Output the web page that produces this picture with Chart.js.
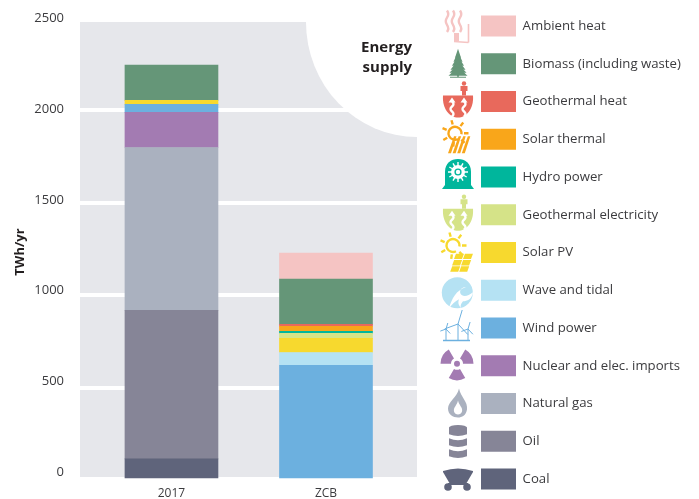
<!DOCTYPE html>
<html><head><meta charset="utf-8">
<style>html,body{margin:0;padding:0;background:#fff}canvas{display:block}</style>
<script src="https://cdn.jsdelivr.net/npm/chart.js@4"></script>
</head><body><canvas id="c" width="699" height="499"></canvas>
<script>
const categories = ['2017', 'ZCB'];
const seriesNames = ['Coal','Oil','Natural gas','Nuclear and elec. imports','Wind power','Wave and tidal','Solar PV','Geothermal electricity','Hydro power','Solar thermal','Geothermal heat','Biomass (including waste)','Ambient heat'];
const values2017 = [114, 804, 881, 190, 44, null, 21, null, null, null, null, 191, null];
const valuesZCB  = [null, null, null, null, 620, 70, 76, 27, 11, 28, 10, 245, 141];
const seriesColors = ['#5f647b','#868597','#aab1bf','#a37bb2','#6cb0df','#b5e2f3','#f7d92e','#d5e388','#00b69c','#f9a61a','#e8695c','#659678','#f5c4c3'];
const yTicks = [0, 500, 1000, 1500, 2000, 2500];
const FONT = '"Open Sans", sans-serif';
const TEXT = '#3b3b3e';
const LEGEND_GAP = 16.75;

const datasets = seriesNames.map((name, i) => ({
  label: name,
  data: [{x: 0, y: values2017[i]}, {x: 1, y: valuesZCB[i]}],
  backgroundColor: seriesColors[i],
  borderWidth: 0,
  barThickness: 93,
  yAxisID: 'y'
}));

function wavy(ctx, x, y0, y1, amp, lw) {
  ctx.lineWidth = lw; ctx.beginPath(); ctx.moveTo(x, y0);
  const h = (y1 - y0) / 3;
  for (let k = 0; k < 3; k++) {
    const s = k % 2 ? -1 : 1;
    ctx.quadraticCurveTo(x + s * amp, y0 + h * (k + .5), x, y0 + h * (k + 1));
  }
  ctx.stroke();
}
function rays(ctx, cx, cy, r0, r1, a0, a1, n) {
  ctx.beginPath();
  for (let k = 0; k < n; k++) {
    const a = (a0 + (a1 - a0) * k / (n - 1)) * Math.PI / 180;
    ctx.moveTo(cx + r0 * Math.cos(a), cy + r0 * Math.sin(a));
    ctx.lineTo(cx + r1 * Math.cos(a), cy + r1 * Math.sin(a));
  }
  ctx.stroke();
}
function geo(ctx, c) {
  ctx.fillStyle = c;
  ctx.beginPath(); ctx.moveTo(-15,-6); ctx.lineTo(15,-6); ctx.bezierCurveTo(16,8,8,16,0,16); ctx.bezierCurveTo(-8,16,-16,8,-15,-6); ctx.fill();
  ctx.beginPath(); ctx.arc(6,-18,2.2,0,7); ctx.fill();
  ctx.fillRect(2.5,-15.5,7,5); ctx.fillRect(4,-11,4,5);
  ctx.strokeStyle = '#fff'; ctx.fillStyle = '#fff';
  [-6, 6].forEach(x => {
    wavy(ctx, x, 15, 0, 3, 2.4);
    ctx.beginPath(); ctx.moveTo(x-3.5,1); ctx.lineTo(x,-4); ctx.lineTo(x+3.5,1); ctx.fill();
  });
}
function sun(ctx, c, x, y) {
  ctx.strokeStyle = c; ctx.lineWidth = 2.4;
  ctx.beginPath(); ctx.arc(x, y, 6.5, Math.PI * .35, Math.PI * 2.05); ctx.stroke();
  rays(ctx, x, y, 9, 13.5, 45, 360, 7);
}
const icons = [
  (ctx, c) => { // coal cart
    ctx.fillStyle = c;
    ctx.beginPath(); ctx.moveTo(-15,-8); ctx.quadraticCurveTo(0,-13,15,-8); ctx.lineTo(15,-7); ctx.lineTo(8,5); ctx.lineTo(-8,5); ctx.lineTo(-15,-7); ctx.fill();
    ctx.fillRect(-10,4,20,2);
    ctx.beginPath(); ctx.arc(-10,8,3.8,0,7); ctx.arc(9,8,3.8,0,7); ctx.fill();
  },
  (ctx, c) => { // oil barrel
    ctx.fillStyle = c;
    [[-16,-7],[-5,4],[6,15]].forEach(([a,b]) => {
      ctx.beginPath(); ctx.moveTo(-9,a+2); ctx.quadraticCurveTo(0,a+6,9,a+2); ctx.lineTo(9,b); ctx.quadraticCurveTo(0,b+3.5,-9,b); ctx.fill();
    });
    ctx.beginPath(); ctx.ellipse(0,-13.5,9,2.8,0,0,7); ctx.fill();
  },
  (ctx, c) => { // gas flame
    ctx.fillStyle = c;
    ctx.beginPath(); ctx.moveTo(1,-15); ctx.bezierCurveTo(3,-6,10,-2,9,6); ctx.bezierCurveTo(8,12,4,14,0,14); ctx.bezierCurveTo(-5,14,-10,11,-10,5); ctx.bezierCurveTo(-10,-2,-1,-6,1,-15); ctx.fill();
    ctx.fillStyle = '#fff';
    ctx.beginPath(); ctx.moveTo(0,-3); ctx.bezierCurveTo(1,2,5,4,4,8); ctx.bezierCurveTo(3,12,-3,12,-4,8); ctx.bezierCurveTo(-5,4,-1,2,0,-3); ctx.fill();
  },
  (ctx, c) => { // nuclear
    ctx.fillStyle = c;
    [-150,-30,90].forEach(a => {
      const s = (a-30)*Math.PI/180, e = (a+30)*Math.PI/180;
      ctx.beginPath(); ctx.arc(-1,-2,16.5,s,e); ctx.arc(-1,-2,6,e,s,true); ctx.closePath(); ctx.fill();
    });
    ctx.beginPath(); ctx.arc(-1,-2,3,0,7); ctx.fill();
  },
  (ctx, c) => { // wind
    ctx.strokeStyle = c; ctx.lineWidth = 1;
    const turbine = (x, hub, r) => {
      ctx.beginPath(); ctx.moveTo(x,12); ctx.lineTo(x,hub);
      ctx.moveTo(x,hub); ctx.lineTo(x+r*.3,hub-r);
      ctx.moveTo(x,hub); ctx.lineTo(x-r*.95,hub+r*.35);
      ctx.moveTo(x,hub); ctx.lineTo(x+r*.7,hub+r*.75);
      ctx.stroke();
    };
    turbine(0,-4,14); turbine(-12,1,6); turbine(10,1,7);
    ctx.lineWidth = 1.5; ctx.beginPath(); ctx.moveTo(-15,12.5); ctx.lineTo(12,12.5); ctx.stroke();
  },
  (ctx, c) => { // wave
    ctx.fillStyle = c; ctx.beginPath(); ctx.arc(-.7,2.5,15.5,0,7); ctx.fill();
    ctx.fillStyle = '#fff';
    ctx.beginPath(); ctx.moveTo(-9,18); ctx.bezierCurveTo(-6,8,-2,0,8,-3); ctx.bezierCurveTo(3,-4,0,2,4,5); ctx.bezierCurveTo(7,7,11,5,15,2); ctx.bezierCurveTo(14,9,9,11,5,11); ctx.bezierCurveTo(3,13,2,16,3,18); ctx.bezierCurveTo(0,14,0,12,1,9); ctx.bezierCurveTo(-3,11,-6,14,-9,18); ctx.fill();
  },
  (ctx, c) => { // solar pv
    sun(ctx, c, -5, -7);
    ctx.fillStyle = c;
    [0,1,2].forEach(row => [0,1].forEach(col => {
      const x = -4 - row * 1.9 + col * 9 , y = 1.2 + row * 6.3;
      ctx.beginPath(); ctx.moveTo(x+2,y); ctx.lineTo(x+10,y); ctx.lineTo(x+8,y+5.4); ctx.lineTo(x,y+5.4); ctx.fill();
    }));
  },
  (ctx, c) => geo(ctx, c),
  (ctx, c) => { // hydro
    ctx.fillStyle = c;
    ctx.beginPath(); ctx.moveTo(-13,9); ctx.lineTo(-13,-5); ctx.bezierCurveTo(-13,-14,-7,-18,0,-18); ctx.bezierCurveTo(7,-18,13,-14,13,-5); ctx.lineTo(13,9); ctx.fill();
    ctx.beginPath(); ctx.moveTo(-16,12); ctx.lineTo(-13,8); ctx.lineTo(13,8); ctx.lineTo(16,12); ctx.fill();
    ctx.strokeStyle = '#fff'; ctx.fillStyle = '#fff'; ctx.lineWidth = 1.4;
    rays(ctx, 0, -5, 6, 10, 0, 330, 12);
    ctx.beginPath(); ctx.arc(0,-5,7,0,7); ctx.fill();
    ctx.fillStyle = c; ctx.beginPath(); ctx.arc(0,-5,3.6,0,7); ctx.fill();
    ctx.fillStyle = '#fff'; ctx.beginPath(); ctx.arc(0,-5,2.2,0,7); ctx.fill();
  },
  (ctx, c) => { // solar thermal
    sun(ctx, c, -3, -6);
    ctx.fillStyle = c;
    [0,1,2,3].forEach(k => {
      const x = -10 + k * 4.6;
      ctx.beginPath(); ctx.moveTo(x+6,-3); ctx.lineTo(x+8.5,-3); ctx.lineTo(x+3,14); ctx.lineTo(x,14); ctx.fill();
    });
  },
  (ctx, c) => geo(ctx, c),
  (ctx, c) => { // tree
    ctx.fillStyle = c;
    [[-15,-6,3],[-12,-2,4.5],[-8,2,6],[-4,6,7.5],[0,9,8.5],[3,12,9.5]].forEach(([t,b,w]) => {
      ctx.beginPath(); ctx.moveTo(0,t); ctx.lineTo(w,b); ctx.lineTo(-w,b); ctx.fill();
    });
    ctx.fillRect(-1,11,2,2); ctx.fillRect(-8,13,16,1);
  },
  (ctx, c) => { // ambient heat
    ctx.strokeStyle = c; ctx.fillStyle = c;
    [-11,-5,2].forEach(x => wavy(ctx, x, -15.5, 6, 2.5, 2.4));
    ctx.fillRect(-4,7,5,8);
    ctx.lineWidth = 1.6;
    ctx.beginPath(); ctx.moveTo(10.5,-2); ctx.lineTo(10.5,16.5); ctx.moveTo(-4,15.5); ctx.lineTo(10.5,16.5); ctx.stroke();
  }
];

const furniture = {
  id: 'furniture',
  beforeLayout(chart) {
    const l = chart.legend;
    if (l && !l._patched) {
      const f = l.fit;
      l.fit = function () { this.maxHeight = 700; f.call(this); this.width = 282; this.height = 499; };
      l._patched = true;
    }
  },
  afterLayout(chart) {
    const l = chart.legend;
    l.left = 481 - LEGEND_GAP; l.right = 699; l.top = 15.5 - LEGEND_GAP; l.bottom = 700;
  },
  beforeDraw(chart) {
    const {ctx, chartArea: a} = chart;
    ctx.save();
    ctx.fillStyle = '#e6e7eb';
    ctx.fillRect(a.left, a.top + 4, a.right - a.left, a.bottom - a.top - 7);
    ctx.fillStyle = '#fff';
    ctx.beginPath(); ctx.ellipse(a.right, a.top + 4, 111, 115, 0, Math.PI / 2, Math.PI); ctx.lineTo(a.right, a.top + 4); ctx.fill();
    ctx.restore();
  },
  afterDraw(chart) {
    const {ctx, chartArea: a} = chart;
    ctx.save();
    ctx.fillStyle = '#231f20';
    ctx.font = 'bold 15px ' + FONT;
    ctx.textAlign = 'right'; ctx.textBaseline = 'middle';
    ctx.fillText('Energy', a.right - 5, 48);
    ctx.fillText('supply', a.right - 5, 68);
    ctx.save();
    ctx.translate(20, 252); ctx.rotate(-Math.PI / 2);
    ctx.textAlign = 'center';
    ctx.font = 'bold 13px ' + FONT;
    ctx.fillText('TWh/yr', 0, 0);
    ctx.restore();
    const items = chart.legend.legendItems, boxes = chart.legend.legendHitBoxes;
    items.forEach((it, i) => {
      const idx = it.datasetIndex;
      ctx.save();
      ctx.translate(458, boxes[i].top + boxes[i].height / 2);
      icons[idx](ctx, seriesColors[idx]);
      ctx.restore();
    });
    ctx.restore();
  }
};

new Chart(document.getElementById('c'), {
  type: 'bar',
  data: {datasets},
  plugins: [furniture],
  options: {
    responsive: false, animation: false,
    layout: {padding: {top: 18, left: 0, right: 0, bottom: 0}},
    plugins: {
      tooltip: {enabled: false},
      legend: {
        position: 'right', align: 'start', reverse: true,
        labels: {boxWidth: 35, boxHeight: 21, padding: LEGEND_GAP, color: TEXT,
          font: {family: FONT, size: 13.2}}
      }
    },
    scales: {
      x: {
        type: 'linear', stacked: true, offset: false, min: -0.592, max: 1.589,
        grid: {display: false, drawTicks: false, tickLength: 0, offset: false}, border: {display: false},
        afterBuildTicks: s => { s.ticks = categories.map((_, i) => ({value: i})); },
        afterFit: s => { s.height = 19; },
        ticks: {stepSize: 1, padding: 6, color: TEXT, font: {family: FONT, size: 12},
          autoSkip: false, maxRotation: 0, callback: v => categories[v]}
      },
      y: {
        stacked: true, min: 0, max: 2500, position: 'left', weight: 1,
        afterBuildTicks: s => { s.ticks = yTicks.map(v => ({value: v})); },
        afterFit: s => { s.width = 0; },
        ticks: {display: false},
        border: {display: false},
        grid: {color: '#fff', lineWidth: 4, drawTicks: false}
      },
      yLabels: {
        type: 'linear', min: -41, max: 2500, position: 'left', weight: 2,
        afterBuildTicks: s => { s.ticks = yTicks.map(v => ({value: v})); },
        afterFit: s => { s.width = 80; },
        grid: {display: false}, border: {display: false},
        ticks: {padding: 8, color: TEXT, autoSkip: false, font: {family: FONT, size: 13},
          callback: v => String(v)}
      }
    }
  }
});
</script></body></html>
